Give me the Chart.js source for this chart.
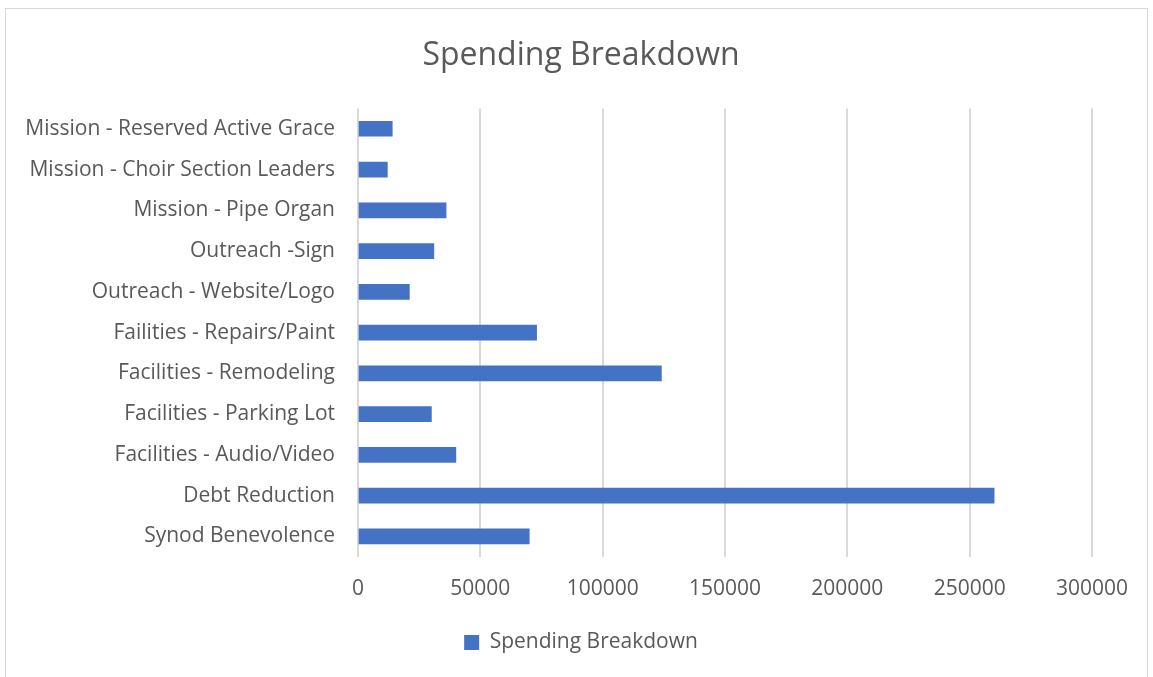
<!DOCTYPE html>
<html>
<head>
<meta charset="utf-8">
<script src="https://cdn.jsdelivr.net/npm/chart.js@4"></script>
<style>
  html, body { margin: 0; padding: 0; background: #fff; }
  #wrap { position: relative; width: 1153px; height: 677px; }
  #frame { position: absolute; left: 5px; top: 8px; width: 1141px; height: 675px; border: 1px solid #d9d9d9; }
  #myChart { position: absolute; left: 0; top: 0; }
</style>
</head>
<body>
<div id="wrap">
  <div id="frame"></div>
  <canvas id="myChart" width="1153" height="677"></canvas>
</div>
<script>
// 항목 (위에서 아래 순서)
const categories = [
  "Mission - Reserved Active Grace",
  "Mission - Choir Section Leaders",
  "Mission - Pipe Organ",
  "Outreach -Sign",
  "Outreach - Website/Logo",
  "Failities - Repairs/Paint",
  "Facilities - Remodeling",
  "Facilities - Parking Lot",
  "Facilities - Audio/Video",
  "Debt Reduction",
  "Synod Benevolence"
];
const spending = [14000, 12000, 36000, 31000, 21000, 73000, 124000, 30000, 40000, 260000, 70000];
const xTicks = [0, 50000, 100000, 150000, 200000, 250000, 300000];

const fontName = "'Open Sans', sans-serif";
const grey = '#595959';

const ctx = document.getElementById("myChart").getContext('2d');
const myChart = new Chart(ctx, {
  type: 'bar',
  data: {
    labels: categories,
    datasets: [
      {
        label: 'Spending Breakdown',
        data: spending,
        backgroundColor: '#4472C4',
        borderWidth: 0,
        barThickness: 15
      }
    ]
  },
  options: {
    indexAxis: 'y',
    responsive: false,
    animation: false,
    layout: {
      padding: {left: 14, right: 5, top: 27, bottom: 14}
    },
    scales: {
      x: {
        min: 0,
        max: 300000,
        afterBuildTicks: function(axis) {
          axis.ticks = xTicks.map(v => ({value: v}));
        },
        afterFit: function(axis) {
          axis.paddingRight = 61;
        },
        grid: {color: '#d9d9d9', lineWidth: 2, drawTicks: false},
        border: {display: false},
        ticks: {
          color: grey,
          padding: 20,
          font: {family: fontName, size: 21},
          callback: function(v) { return String(v); }
        }
      },
      y: {
        afterFit: function(axis) {
          axis.width = 344;
        },
        grid: {display: false, drawTicks: false},
        border: {display: false},
        ticks: {color: grey, padding: 23, font: {family: fontName, size: 21}}
      }
    },
    plugins: {
      title: {
        display: true,
        text: 'Spending Breakdown',
        color: grey,
        font: {family: fontName, size: 32, weight: 'normal'},
        padding: {top: 10, bottom: 33}
      },
      legend: {
        position: 'bottom',
        labels: {
          color: grey,
          boxWidth: 15,
          boxHeight: 15,
          padding: 10,
          font: {family: fontName, size: 21}
        }
      },
      tooltip: {enabled: false}
    }
  }
});
</script>
</body>
</html>
